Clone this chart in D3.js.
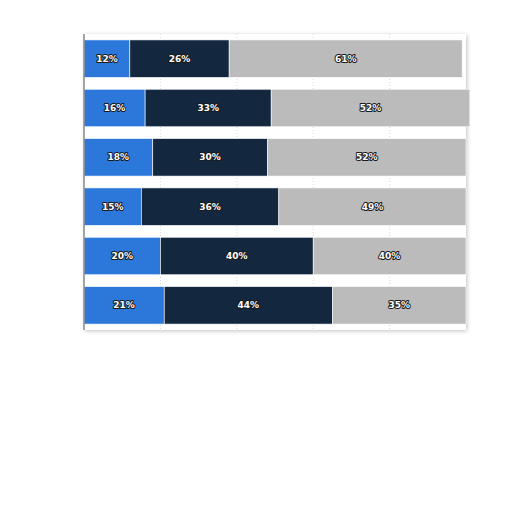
<!DOCTYPE html>
<html>
  <head>
    <meta charset="UTF-8">
    <title>Stacked bars</title>
    <script src="https://d3js.org/d3.v7.min.js"></script>
    <style>
      body { margin: 0; background: #fff; }
      .lbl { font-family: "DejaVu Sans", sans-serif; font-weight: bold; font-size: 9px;
             fill: #fff; stroke: #1a1a1a; stroke-width: 2px; paint-order: stroke; stroke-linejoin: round; }
    </style>
  </head>
  <body>
    <svg id="chart" width="512" height="512"></svg>
    <script>
      // rows top to bottom, three shares each (percent)
      const rows = ["r1", "r2", "r3", "r4", "r5", "r6"];
      const first = [12, 16, 18, 15, 20, 21];
      const second = [26, 33, 30, 36, 40, 44];
      const third = [61, 52, 52, 49, 40, 35];
      const ticks = [0, 20, 40, 60, 80, 100];
      const colors = ["#2b78da", "#13273f", "#bbbbbb"];

      const data = rows.map((r, i) => ({ row: r, a: first[i], b: second[i], c: third[i] }));
      const series = d3.stack().keys(["a", "b", "c"])(data);

      const svg = d3.select("#chart");
      const plotL = 84, plotR = 466, plotT = 34, plotB = 330;

      const x = d3.scaleLinear().domain([0, 100]).range([plotL, plotR]);
      const y = d3.scaleBand().domain(rows).range([plotT, plotB]).paddingInner(0.24).paddingOuter(0.12);

      // frame shadow
      const defs = svg.append("defs");
      const f = defs.append("filter").attr("id", "sh").attr("x", "-5%").attr("y", "-5%").attr("width", "110%").attr("height", "110%");
      f.append("feGaussianBlur").attr("in", "SourceAlpha").attr("stdDeviation", 2);
      f.append("feOffset").attr("dx", 1).attr("dy", 1);
      f.append("feComponentTransfer").append("feFuncA").attr("type", "linear").attr("slope", 0.25);
      const m = f.append("feMerge");
      m.append("feMergeNode");
      m.append("feMergeNode").attr("in", "SourceGraphic");

      svg.append("rect")
        .attr("x", plotL).attr("y", plotT)
        .attr("width", plotR - plotL).attr("height", plotB - plotT)
        .attr("fill", "#fff").attr("filter", "url(#sh)");

      // dotted gridlines
      svg.append("g").selectAll("line")
        .data(ticks.slice(1, -1))
        .join("line")
        .attr("x1", d => x(d)).attr("x2", d => x(d))
        .attr("y1", plotT).attr("y2", plotB)
        .attr("stroke", "#d8d8d8")
        .attr("stroke-dasharray", "1,2");

      // bars
      svg.append("g").selectAll("g")
        .data(series)
        .join("g")
        .attr("fill", (d, i) => colors[i])
        .selectAll("rect")
        .data(d => d)
        .join("rect")
        .attr("x", d => x(d[0]))
        .attr("y", d => y(d.data.row))
        .attr("width", d => x(d[1]) - x(d[0]))
        .attr("height", y.bandwidth())
        .attr("stroke", "#fff")
        .attr("stroke-width", 0.6);

      // value labels
      svg.append("g").selectAll("g")
        .data(series)
        .join("g")
        .selectAll("text")
        .data(d => d.map(v => ({ v, key: d.key })))
        .join("text")
        .attr("class", "lbl")
        .attr("x", d => (x(d.v[0]) + x(d.v[1])) / 2)
        .attr("y", d => y(d.v.data.row) + y.bandwidth() / 2)
        .attr("text-anchor", "middle")
        .attr("dominant-baseline", "central")
        .text(d => d.v.data[d.key] + "%");

      // left axis line
      svg.append("line")
        .attr("x1", plotL).attr("x2", plotL)
        .attr("y1", plotT).attr("y2", plotB)
        .attr("stroke", "#888").attr("stroke-width", 1.5);
    </script>
  </body>
</html>
